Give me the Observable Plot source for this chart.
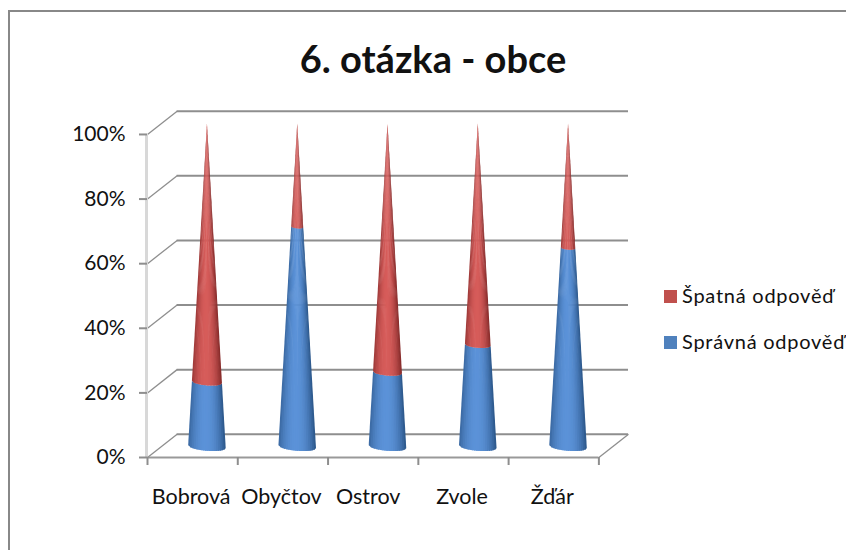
<!DOCTYPE html>
<html>
<head>
<meta charset="utf-8">
<script src="https://cdn.jsdelivr.net/npm/d3@7"></script>
<script src="https://cdn.jsdelivr.net/npm/@observablehq/plot@0.6"></script>
<style>
  html, body { margin: 0; padding: 0; background: #fff; overflow: hidden; }
  #page { position: relative; width: 846px; height: 550px; overflow: hidden; font-family: Lato, sans-serif; color: #111; }
  #frame { position: absolute; left: 8px; top: 10px; right: -4px; bottom: -4px; border-left: 2px solid #888; border-top: 2px solid #888; }
  #title { position: absolute; left: 0; width: 866px; top: 35px; text-align: center; font-size: 38px; font-weight: 700; line-height: 46px; }
  .key { position: absolute; left: 664px; white-space: nowrap; font-size: 20px; letter-spacing: 0.75px; line-height: 24px; }
  .key i { display: inline-block; width: 13px; height: 13px; margin-right: 5px; }
  svg { position: absolute; left: 0; top: 0; }
</style>
</head>
<body>
<div id="page"><div id="frame"></div><div id="chart"></div><div id="title"></div><div id="legend"></div></div>
<script>
const chartTitle = "6. otázka - obce";
const categories = ["Bobrová", "Obyčtov", "Ostrov", "Zvole", "Žďár"];
const correct = [20, 68, 23, 31.5, 61.5];   // Správná odpověď, %
const wrong = [80, 32, 77, 68.5, 38.5];     // Špatná odpověď, %
const yTicks = [0, 20, 40, 60, 80, 100];
const xTicks = [0, 1, 2, 3, 4, 5];
const seriesNames = ["Špatná odpověď", "Správná odpověď"];
const seriesColors = ["#c0504d", "#4f81bd"];

// oblique depth of the 3-D box, in data units
const depthX = 0.328, depthY = 7.2;
const coneDepth = 3.2, coneRadius = 0.208, bulge = 1.3, tilt = 0.46, strips = 20;
const blueShade = d3.interpolateRgb("#2a5587", "#5b92d8");
const redShade = d3.interpolateRgb("#822928", "#d65c5a");
const shade = u => Math.max(0, 1 - Math.pow(Math.abs(u + 0.08) / 1.08, 2.2));

const rows = [];
categories.forEach((name, i) => {
  const cx = i + 0.5 + depthX / 2;
  const stacks = [[0, correct[i], blueShade], [correct[i], correct[i] + wrong[i], redShade]];
  stacks.forEach(([a, b, ramp], s) => {
    for (let k = 0; k < strips; k++) {
      const u1 = -1 + 2 * k / strips;
      // each strip runs a little under the next one, so no seams show between them
      const u2 = Math.min(1, u1 + 3 / strips);
      const fill = ramp(shade(u1 + 1 / strips));
      for (const v of [a, b]) {
        const r = 1 - v / 100;
        const edge = u => v + coneDepth - (Math.sqrt(Math.max(0, 1 - u * u)) * bulge + u * tilt) * r;
        rows.push({key: `${i}-${s}-${k}`, x1: cx + u1 * coneRadius * r, y1: edge(u1), x2: cx + u2 * coneRadius * r, y2: edge(u2), fill});
      }
    }
  });
});

const labelRows = categories.map((name, i) => ({name, x: i + 0.5, y: 0}));
const gridGray = "#8e8e8e";

const plot = Plot.plot({
  width: 846, height: 550,
  marginLeft: 147, marginRight: 218, marginTop: 110.7, marginBottom: 93,
  style: {background: "transparent", fontFamily: "Lato, sans-serif", color: "#111"},
  x: {type: "linear", domain: [0, 5 + depthX], axis: null},
  y: {type: "linear", domain: [0, 100 + depthY], axis: null},
  color: {type: "identity"},
  marks: [
    // back wall gridlines and side wall diagonals
    Plot.ruleY(yTicks, {y: d => d + depthY, x1: depthX, x2: 5 + depthX, stroke: gridGray, strokeWidth: 2}),
    Plot.link(yTicks, {x1: 0, y1: d => d, x2: depthX, y2: d => d + depthY, stroke: gridGray, strokeWidth: 1.3}),
    Plot.link([0], {x1: 5, y1: d => d, x2: 5 + depthX, y2: d => d + depthY, stroke: gridGray, strokeWidth: 1.3}),
    // front axes
    Plot.ruleX([0], {y1: 0, y2: 100, stroke: "#d8d8d8", strokeWidth: 3, dx: -1}),
    Plot.ruleY([0], {x1: 0, x2: 5, stroke: "#999", strokeWidth: 2}),
    Plot.axisY(yTicks, {tickSize: 8, tickPadding: 14, tickFormat: d => d + "%", fontSize: 21, stroke: gridGray, strokeWidth: 2, fill: "#111", label: null, tickOpacity: 1}),
    Plot.axisX(xTicks, {tickSize: 8, tickFormat: () => "", stroke: gridGray, strokeWidth: 2, label: null, tickOpacity: 1}),
    // cones
    Plot.area(rows, {x1: "x1", y1: "y1", x2: "x2", y2: "y2", z: "key", fill: "fill"}),
    // category labels
    Plot.text(labelRows.filter(d => d.name !== "Ostrov"), {x: "x", y: "y", text: "name", dy: 40, dx: -1.5, fontSize: 21.5, fill: "#111"}),
    Plot.text(labelRows.filter(d => d.name === "Ostrov"), {x: "x", y: "y", text: "name", dy: 40, dx: -5, fontSize: 21.5, fill: "#111"})
  ]
});
document.getElementById("chart").append(plot);
document.getElementById("title").textContent = chartTitle;

const legend = document.getElementById("legend");
const legendTops = [283, 329];
seriesNames.forEach((name, i) => {
  const el = document.createElement("div");
  el.className = "key";
  el.style.top = legendTops[i] + "px";
  el.innerHTML = `<i style="background:${seriesColors[i]}"></i>${name}`;
  legend.append(el);
});
</script>
</body>
</html>
